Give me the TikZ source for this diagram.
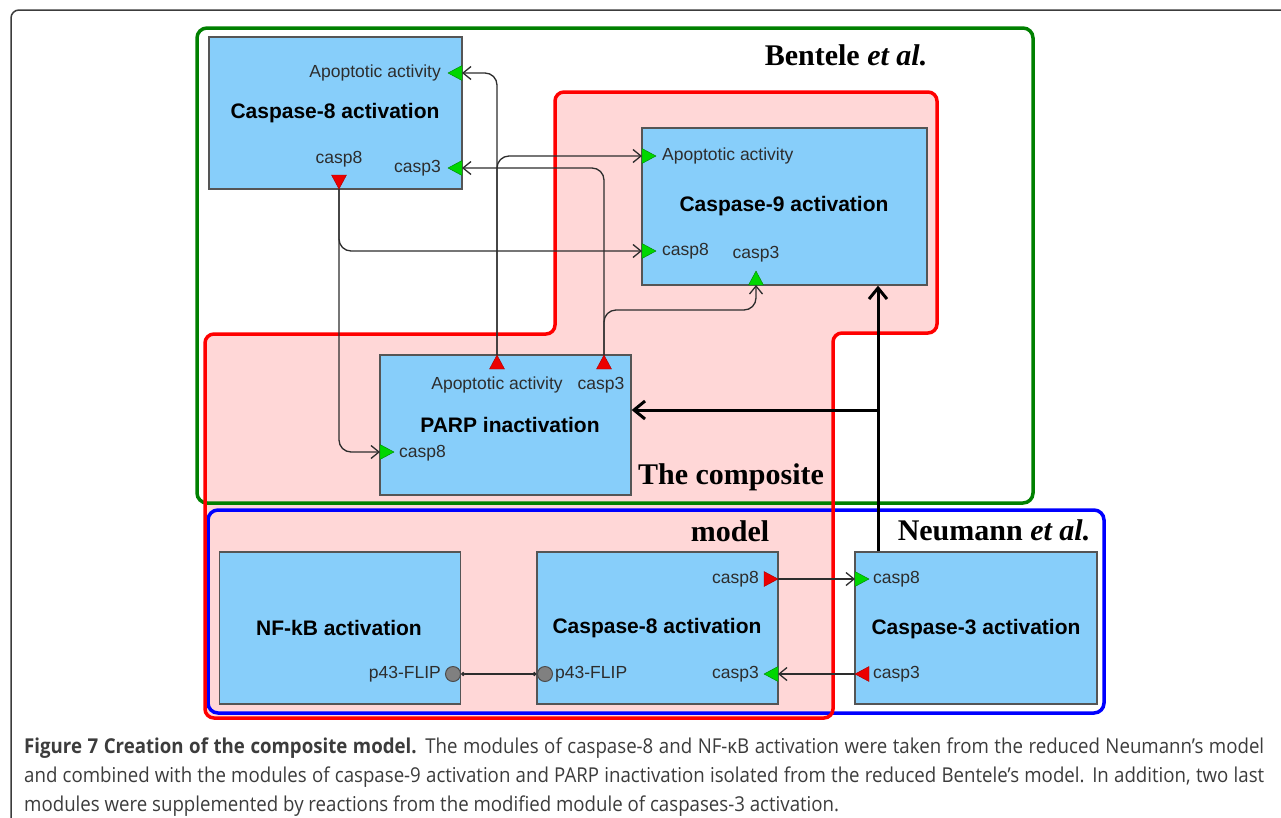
\documentclass[tikz,border=0pt]{standalone}
\usepackage{fontspec}
\setmainfont{Liberation Serif}
\setsansfont{Liberation Sans}
\newfontfamily\captionfont[FakeStretch=0.91]{Open Sans}
\usetikzlibrary{
  arrows.meta,
  calc,
  positioning
}
\usepackage{xcolor}
\definecolor{moduleBlue}{RGB}{135,206,250}
\definecolor{moduleLine}{RGB}{85,85,85}
\definecolor{compositePink}{RGB}{255,215,215}
\definecolor{benteleGreen}{RGB}{0,128,0}
\definecolor{portGreen}{RGB}{0,215,0}
\definecolor{portRed}{RGB}{235,0,0}
\definecolor{wireGrey}{RGB}{45,45,45}
\definecolor{captionGrey}{RGB}{60,60,60}
\newcommand{\inPort}[3]{\coordinate (#1) at (#2);
  \filldraw[inPortTri] (#1) ++(#3+90:7.5pt) -- ++(#3-90:15pt)
    -- ($(#1)+(#3:14pt)$) -- cycle;}
\newcommand{\outPort}[3]{\coordinate (#1) at (#2);
  \filldraw[outPortTri] (#1) -- ($(#1)+(#3+180:14pt)+(#3+90:7.5pt)$)
    -- ($(#1)+(#3+180:14pt)+(#3-90:7.5pt)$) -- cycle;}
\tikzset{
  module/.style={
    rectangle,
    draw=moduleLine,
    line width=1.3pt,
    fill=moduleBlue,
    inner sep=0pt
  }
}
\tikzset{
  moduleTitle/.style={
    font=\sffamily\bfseries\fontsize{21}{24}\selectfont,
    inner sep=0pt
  }
}
\tikzset{
  portLabel/.style={
    font=\sffamily\fontsize{17.5}{20}\selectfont,
    text=wireGrey,
    inner sep=0pt
  }
}
\tikzset{
  groupLabel/.style={
    font=\rmfamily\bfseries\fontsize{30}{33}\selectfont,
    inner sep=0pt
  }
}
\tikzset{
  inPortTri/.style={fill=portGreen, draw=portGreen!60!black, line width=0.4pt},
  outPortTri/.style={fill=portRed, draw=portRed!70!black, line width=0.4pt},
  flipDot/.style={circle, minimum size=15pt, inner sep=0pt,
    fill=gray, draw=black!70, line width=1pt},
  wire/.style={draw=wireGrey, line width=1.3pt, rounded corners=12pt,
    -{Straight Barb[length=8pt,width=13pt]}},
  mainWire/.style={draw=black, line width=3pt,
    -{Straight Barb[length=11pt,width=18pt]}},
  capLine/.style={font=\captionfont\fontsize{20.5}{24}\selectfont,
    text=captionGrey, inner sep=0pt, anchor=base west}
}

\begin{document}
\begin{tikzpicture}[x=1pt, y=-1pt]
    \useasboundingbox (0,0) rectangle (1281,817);
    \fill[white] (0,0) rectangle (1281,817);
    \draw[captionGrey, line width=1.5pt, rounded corners=8pt]
      (11,830) -- (11,10) -- (1300,10);

    % groups of the two source models and the composite
    \fill[compositePink, rounded corners=9pt]
      (555,334) -- (555,92) -- (937,92) -- (937,333) -- (833,333)
      -- (833,718) -- (205,718) -- (205,334) -- cycle;
    \draw[benteleGreen, line width=3.5pt, rounded corners=10pt]
      (197,28) rectangle (1033,503);
    \draw[blue, line width=3.5pt, rounded corners=10pt]
      (208,510) rectangle (1104,713);
    \draw[red, line width=3.5pt, rounded corners=9pt]
      (555,334) -- (555,92) -- (937,92) -- (937,333) -- (833,333)
      -- (833,718) -- (205,718) -- (205,334) -- cycle;

    \node[groupLabel] (bentele) at (846,55) {Bentele \textit{et al.}};
    \node[groupLabel] (neumann) at (994,530) {Neumann \textit{et al.}};
    \node[groupLabel] (compA) at (731,477) {The composite};
    \node[groupLabel] (compB) at (730,531) {model};

    % modules
    \node[module, minimum width=253pt, minimum height=152pt]
      (c8top) at (335.5,113) {};
    \node[module, minimum width=285pt, minimum height=157pt]
      (c9) at (784.5,206.5) {};
    \node[module, minimum width=251pt, minimum height=140pt]
      (parp) at (505.5,425) {};
    \node[module, minimum width=241pt, minimum height=152pt]
      (nfkb) at (340,628) {};
    \node[module, minimum width=241pt, minimum height=152pt]
      (c8bot) at (657.5,628) {};
    \node[module, minimum width=242pt, minimum height=152pt]
      (c3) at (976,628) {};

    \node[moduleTitle] (c8topT) at (335,113) {Caspase-8 activation};
    \node[moduleTitle] (c9T) at (784,206) {Caspase-9 activation};
    \node[moduleTitle] (parpT) at (510,425) {PARP inactivation};
    \node[moduleTitle] (nfkbT) at (339,628) {NF-kB activation};
    \node[moduleTitle] (c8botT) at (657,628) {Caspase-8 activation};
    \node[moduleTitle] (c3T) at (976,629) {Caspase-3 activation};

    \node[portLabel, anchor=east] (c8ApoL) at (441,73) {Apoptotic activity};
    \node[portLabel, anchor=east] (c8C3L) at (441,168) {casp3};
    \node[portLabel] (c8C8L) at (339,159) {casp8};
    \node[portLabel, anchor=west] (c9ApoL) at (662,156) {Apoptotic activity};
    \node[portLabel, anchor=west] (c9C8L) at (662,251) {casp8};
    \node[portLabel] (c9C3L) at (756,254) {casp3};
    \node[portLabel] (parpApoL) at (497,385) {Apoptotic activity};
    \node[portLabel] (parpC3L) at (601,385) {casp3};
    \node[portLabel, anchor=west] (parpC8L) at (399,453) {casp8};
    \node[portLabel, anchor=east] (nfkbFlipL) at (441,674) {p43-FLIP};
    \node[portLabel, anchor=west] (c8botFlipL) at (555,674) {p43-FLIP};
    \node[portLabel, anchor=east] (c8botC8L) at (759,579) {casp8};
    \node[portLabel, anchor=east] (c8botC3L) at (759,674) {casp3};
    \node[portLabel, anchor=west] (c3C8L) at (873,579) {casp8};
    \node[portLabel, anchor=west] (c3C3L) at (873,674) {casp3};

    % ports
    \inPort{c8Apo}{462,73}{180}
    \inPort{c8C3}{462,168}{180}
    \outPort{c8C8}{339,189}{270}
    \inPort{c9Apo}{642,156}{0}
    \inPort{c9C8}{642,251}{0}
    \inPort{c9C3}{756,285}{90}
    \outPort{parpApo}{497,355}{90}
    \outPort{parpC3}{604,355}{90}
    \inPort{parpC8}{380,452}{0}
    \outPort{c8botC8}{778,579}{0}
    \inPort{c8botC3}{778,674}{180}
    \inPort{c3C8}{855,579}{0}
    \outPort{c3C3}{855,674}{180}
    \node[flipDot] (nfkbFlip) at (453,674) {};
    \node[flipDot] (c8botFlip) at (545,674) {};

    % reactions between modules
    \draw[wire] (parpApo) |- (c8Apo);
    \draw[wire] (parpApo) |- (c9Apo);
    \draw[wire] (parpC3) |- (c8C3);
    \draw[wire] (parpC3) -- ++(0,-45) -| (c9C3);
    \draw[wire] (c8C8) |- (c9C8);
    \draw[wire] (c8C8) |- (parpC8);
    \draw[wire] (c8botC8) -- (c3C8);
    \draw[wire] (c3C3) -- (c8botC3);
    \draw[draw=wireGrey, line width=1.3pt,
      {Circle[length=4pt]}-{Circle[length=4pt]}]
      (nfkb.east |- nfkbFlip) -- (c8bot.west |- c8botFlip);

    \coordinate (hub) at (878,410);
    \draw[mainWire] (c3.north -| hub) -- (c9.south -| hub);
    \draw[mainWire] (hub) -- (parp.east |- hub);

    % caption
    \node[capLine] (capA) at (24,753) {\makebox[1240pt][s]{\textbf{Figure 7
      Creation of the composite model.} The modules of caspase-8 and NF-κB
      activation were taken from the reduced Neumann’s model}};
    \node[capLine] (capB) at (24,782) {\makebox[1240pt][s]{and combined with
      the modules of caspase-9 activation and PARP inactivation isolated from
      the reduced Bentele’s model. In addition, two last}};
    \node[capLine] (capC) at (24,811) {modules were supplemented by reactions
      from the modified module of caspases-3 activation.};
\end{tikzpicture}
\end{document}
